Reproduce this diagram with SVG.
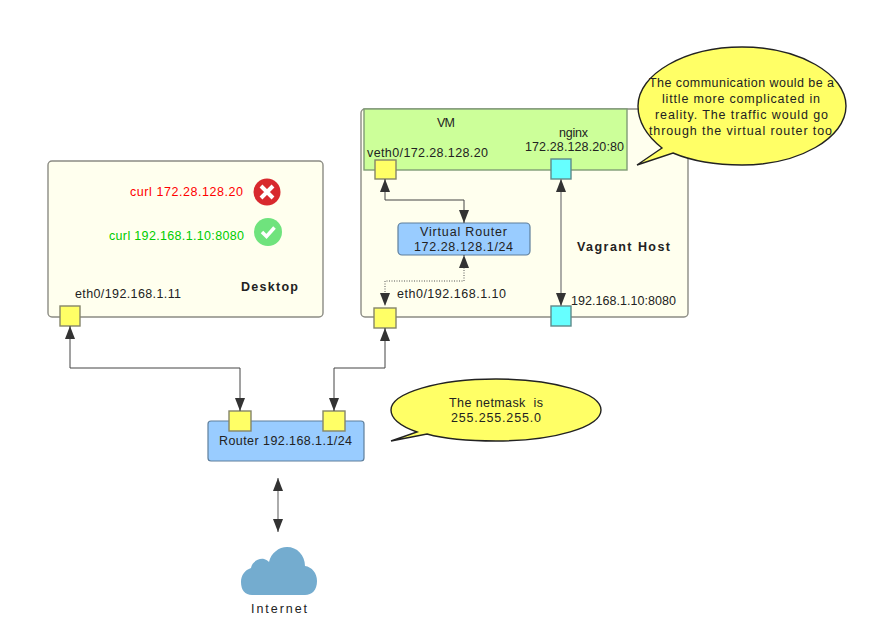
<svg xmlns="http://www.w3.org/2000/svg" width="877" height="626" viewBox="0 0 877 626">
<style>
text{font-family:"Liberation Sans",Arial,sans-serif;font-size:12.5px;fill:#222}
.b{font-weight:bold}
.box{fill:#ffffee;stroke:#8c8c84;stroke-width:1.4}
.vm{fill:#ccff99;stroke:#7f9c75;stroke-width:1.4}
.blue{fill:#99ccff;stroke:#5f7f9c;stroke-width:1.2}
.y{fill:#ffff66;stroke:#85856a;stroke-width:1.4}
.c{fill:#66ffff;stroke:#5f8a8a;stroke-width:1.4}
.call{fill:#ffff66;stroke:#222;stroke-width:1.4}
.ln{fill:none;stroke:#444;stroke-width:1;marker-start:url(#s);marker-end:url(#e)}
.lg{fill:none;stroke:#888;stroke-width:1.4;marker-start:url(#s);marker-end:url(#e)}
.dot{fill:none;stroke:#555;stroke-width:1;stroke-dasharray:1 1.5;marker-start:url(#s);marker-end:url(#e)}
</style>
<defs>
<marker id="e" markerUnits="userSpaceOnUse" markerWidth="13" markerHeight="11" refX="13" refY="5.500" orient="auto"><path d="M0 .5L13 5.500L0 10.500z" fill="#333"/></marker>
<marker id="s" markerUnits="userSpaceOnUse" markerWidth="13" markerHeight="11" refX="0" refY="5.500" orient="auto"><path d="M13 .5L0 5.500L13 10.500z" fill="#333"/></marker>
</defs>
<rect width="877" height="626" fill="#fff"/>
<g id="desktop">
<rect class="box" x="48" y="161" width="275" height="156" rx="4"/>
<text x="130" y="196" textLength="113" style="fill:#f00">curl 172.28.128.20</text>
<text x="109" y="240" textLength="135" style="fill:#0c0">curl 192.168.1.10:8080</text>
<text class="b" x="241" y="291" textLength="57">Desktop</text>
<text x="75" y="298" textLength="106">eth0/192.168.1.11</text>
<circle cx="267" cy="192" r="13.5" fill="#d8292e"/>
<path d="M261 186L273 198M273 186L261 198" stroke="#fff" stroke-width="4" fill="none"/>
<circle cx="268" cy="232" r="14" fill="#6fe37d"/>
<path d="M262 232L266.500 236.500L274.500 227.500" stroke="#fff" stroke-width="3.500" fill="none"/>
</g>
<g id="vagrant-host">
<rect class="box" x="361" y="109" width="327" height="208" rx="4"/>
<text class="b" x="577" y="251" textLength="93">Vagrant Host</text>
<text x="397" y="298" textLength="109">eth0/192.168.1.10</text>
<text x="571" y="305" textLength="105">192.168.1.10:8080</text>
</g>
<g id="vm">
<rect class="vm" x="364" y="109" width="263" height="61"/>
<text x="437" y="127" textLength="18">VM</text>
<text x="559" y="137" textLength="29">nginx</text>
<text x="525" y="151" textLength="99">172.28.128.20:80</text>
<text x="367" y="157" textLength="121">veth0/172.28.128.20</text>
</g>
<g id="virtual-router">
<rect class="blue" x="398" y="223" width="132" height="32" rx="4"/>
<text x="420" y="236" textLength="87">Virtual Router</text>
<text x="414" y="251" textLength="99">172.28.128.1/24</text>
</g>
<g id="router">
<rect class="blue" x="208" y="421" width="156" height="40" rx="3"/>
<text x="219" y="445" textLength="133">Router 192.168.1.1/24</text>
</g>
<g id="ports">
<rect id="port-desktop" class="y" x="60" y="306" width="20" height="20"/>
<rect id="port-host" class="y" x="374" y="308" width="22" height="20"/>
<rect id="port-veth" class="y" x="375" y="160" width="21" height="19"/>
<rect id="port-nginx" class="c" x="551" y="159" width="20" height="20"/>
<rect id="port-8080" class="c" x="551" y="306" width="20" height="20"/>
<rect id="port-r1" class="y" x="229" y="411" width="22" height="20"/>
<rect id="port-r2" class="y" x="323" y="411" width="22" height="20"/>
</g>
<g id="connectors">
<path class="ln" d="M70 326V368H240V411"/>
<path class="ln" d="M385 328V368H334V411"/>
<path class="ln" d="M385 179V200H464V223"/>
<path class="dot" d="M464 255V281H385V306"/>
<path class="lg" d="M561 179V306"/>
<path class="lg" d="M278 478V532"/>
</g>
<g id="callout-reality">
<path class="call" d="M637 165L662 148C647 136 638 122 638 106C638 74 685 47 742 47C799 47 846 74 846 106C846 138 799 165 742 165C716 165 692 161 673 153Z"/>
<text x="649" y="87" textLength="185">The communication would be a</text>
<text x="662" y="103" textLength="158">little more complicated in</text>
<text x="655" y="119" textLength="173">reality. The traffic would go</text>
<text x="649" y="135" textLength="183">through the virtual router too</text>
</g>
<g id="callout-netmask">
<path class="call" d="M391 441L417 432C400 426 391 418 391 410C391 393 438 379 496 379C554 379 601 393 601 410C601 427 554 441 496 441C470 441 445 439 427 434Z"/>
<text x="449" y="407" textLength="94" style="white-space:pre">The netmask  is</text>
<text x="451" y="422" textLength="90">255.255.255.0</text>
</g>
<g id="internet">
<path d="M252 595C245 595 241 590 241 582C241 575 245 570 251 568C252 562 258 558 264 559C267 560 268 561 269 562C271 553 279 547 287 547C297 547 305 555 305 566C312 567 317 573 317 581C317 590 312 595 305 595Z" fill="#74accf"/>
<text x="251" y="613" textLength="56">Internet</text>
</g>
</svg>
